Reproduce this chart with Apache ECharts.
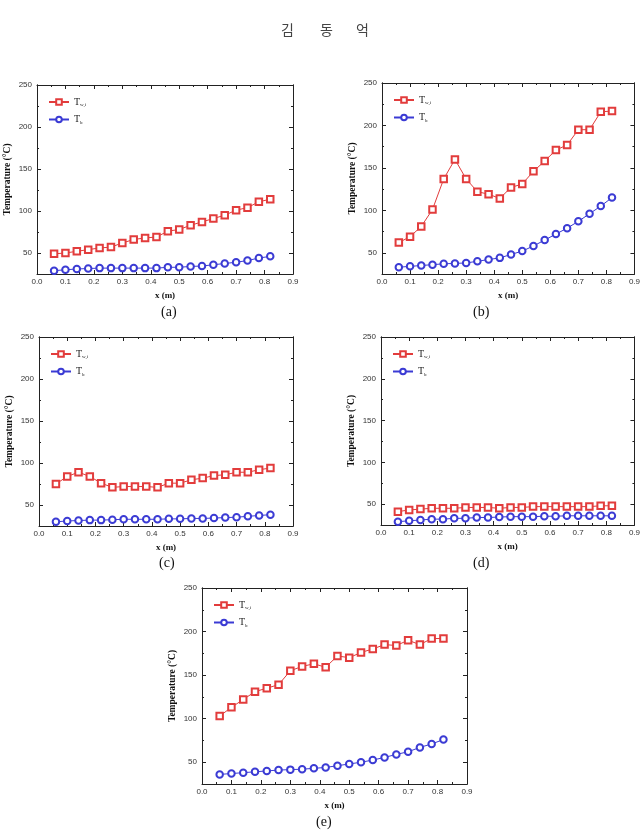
<!DOCTYPE html>
<html>
<head>
<meta charset="utf-8">
<script src="https://cdn.jsdelivr.net/npm/echarts@6/dist/echarts.min.js"></script>
<style>
html,body{margin:0;padding:0;background:#fff;}
#c{width:643px;height:831px;}
</style>
</head>
<body>
<div id="c"></div>
<script>
// ---- data ----
const xValues = [0.06,0.10,0.14,0.18,0.22,0.26,0.30,0.34,0.38,0.42,0.46,0.50,0.54,0.58,0.62,0.66,0.70,0.74,0.78,0.82];
const twA = [49,50,52,54,56,57,62,66,68,69,76,78,83,87,91,95,101,104,111,114];
const tbA = [29,30,31,31.5,32,32,32,32,32,32,33,33,34,34.5,36,37.5,39,41,44,46];
const twB = [62,69,81,101,137,160,137,122,119,114,127,131,146,158,171,177,195,195,216,217];
const tbB = [33,34,35,36,37,37.5,38,40,42,44,48,52,58,65,72,79,87,96,105,115];
const twC = [75,84,89,84,76,71,72,72,72,71,76,76,80,82,85,86,89,89,92,94];
const tbC = [30,31,31.5,32,32,32.5,33,33,33,33,33.5,33.5,34,34,34.5,35,35.5,36.5,37.5,38.5];
const twD = [41,43,44,45,45,45,46,46,46,45,46,46,47,47,47,47,47,47,48,48];
const tbD = [29,30,31,32,32,33,33,34,34,34.5,35,35,35,35.5,35.5,36,36,36,36,36];
const twE = [103,113,122,131,135,139,155,160,163,159,172,170,176,180,185,184,190,185,192,192];
const tbE = [36,37,38,39,40,41,41.5,42,43,44,46,48,50,52.5,55.5,59,62,67,71,76];
const yTickValues = [50,100,150,200,250];
const yMinorValues = [50,75,100,125,150,175,200,225,250];
const captions = ['(a)','(b)','(c)','(d)','(e)'];
const seriesNames = ['Tw,i','Tb'];
const titleChars = ['김','동','억'];

// ---- layout ----
const panels = [
  {tw: twA, tb: tbA, grid:{left:37, top:85, width:256, height:189}, cap:[170,313]},
  {tw: twB, tb: tbB, grid:{left:382, top:83, width:254, height:191}, cap:[482,313]},
  {tw: twC, tb: tbC, grid:{left:39, top:337, width:254, height:189}, cap:[168,564]},
  {tw: twD, tb: tbD, grid:{left:381, top:337, width:255, height:188}, cap:[482,564]},
  {tw: twE, tb: tbE, grid:{left:202, top:588, width:265, height:196}, cap:[325,823]}
];

const RED = '#e23c3c', BLUE = '#3b3bd4', AX = '#222';
const serif = '"Liberation Serif","Times New Roman",serif';
const sans = '"Liberation Sans",Arial,sans-serif';

const grids = [], xAxes = [], yAxes = [], series = [], legends = [], graphics = [];

panels.forEach((p, i) => {
  grids.push(Object.assign({containLabel:false}, p.grid));
  const xBase = {gridIndex:i, type:'value', min:0, max:0.9, interval:0.1,
    axisLine:{show:true, onZero:false, lineStyle:{color:AX, width:1}},
    axisTick:{show:true, inside:true, length:4, lineStyle:{color:AX}},
    minorTick:{show:true, splitNumber:2, length:2, lineStyle:{color:AX}},
    splitLine:{show:false}};
  xAxes.push(Object.assign({}, xBase, {position:'bottom',
    name:'x (m)', nameLocation:'middle', nameGap:17,
    nameTextStyle:{fontFamily:serif, fontWeight:'bold', fontSize:9, color:'#111'},
    axisLabel:{show:true, margin:4, fontSize:8, fontFamily:sans, color:'#333',
      formatter: v => v.toFixed(1)}}));
  xAxes.push(Object.assign({}, xBase, {position:'top', axisLabel:{show:false}}));

  const yBase = {gridIndex:i, type:'value', min:25, max:250,
    axisLine:{show:true, onZero:false, lineStyle:{color:AX, width:1}},
    splitLine:{show:false}};
  yAxes.push(Object.assign({}, yBase, {position:'left',
    name:'Temperature (°C)', nameLocation:'middle', nameGap:24,
    nameTextStyle:{fontFamily:serif, fontWeight:'bold', fontSize:9.5, color:'#111'},
    axisTick:{show:true, inside:true, length:4, customValues:yTickValues, lineStyle:{color:AX}},
    axisLabel:{show:true, margin:5, fontSize:8, fontFamily:sans, color:'#333', customValues:yTickValues}}));
  const yMain = yAxes.length - 1;
  yAxes.push(Object.assign({}, yBase, {position:'left',
    axisTick:{show:true, inside:true, length:2, customValues:yMinorValues, lineStyle:{color:AX}},
    axisLabel:{show:false}}));
  yAxes.push(Object.assign({}, yBase, {position:'right',
    axisTick:{show:true, inside:true, length:4, customValues:yTickValues, lineStyle:{color:AX}},
    axisLabel:{show:false}}));
  yAxes.push(Object.assign({}, yBase, {position:'right',
    axisTick:{show:true, inside:true, length:2, customValues:yMinorValues, lineStyle:{color:AX}},
    axisLabel:{show:false}}));

  const xIdx = i * 2;
  series.push({name:'Tw,i', type:'line', xAxisIndex:xIdx, yAxisIndex:yMain,
    data: xValues.map((x, k) => [x, p.tw[k]]),
    symbol:'emptyRect', symbolSize:6.5, showAllSymbol:true,
    lineStyle:{color:RED, width:1}, itemStyle:{color:RED, borderWidth:0.9}, animation:false, clip:true});
  series.push({name:'Tb', type:'line', xAxisIndex:xIdx, yAxisIndex:yMain,
    data: xValues.map((x, k) => [x, p.tb[k]]),
    symbol:'emptyCircle', symbolSize:6.5, showAllSymbol:true,
    lineStyle:{color:BLUE, width:1}, itemStyle:{color:BLUE, borderWidth:0.9}, animation:false, clip:true});

  legends.push({data:seriesNames, orient:'vertical',
    left: p.grid.left + 6, top: p.grid.top + 7,
    itemWidth:20, itemHeight:7, itemGap:7,
    formatter: n => n === 'Tb' ? '{m|T}{s|b}' : '{m|T}{s|w,i}',
    textStyle:{color:'#111', rich:{
      m:{fontFamily:serif, fontSize:10, color:'#222'},
      s:{fontFamily:serif, fontSize:5, color:'#222', padding:[6,0,0,0]}}}});

  graphics.push({type:'text', left:p.cap[0]-9, top:p.cap[1]-8,
    style:{text:captions[i], fontFamily:serif, fontSize:14, fill:'#111'}});
});

titleChars.forEach((ch, j) => {
  graphics.push({type:'text', left:[281,320,356][j], top:23,
    style:{text:ch, fontFamily:'"Noto Sans CJK KR","Noto Sans CJK SC",sans-serif', fontSize:14, fill:'#444'}});
});

const chart = echarts.init(document.getElementById('c'), null, {renderer:'canvas'});
chart.setOption({
  animation:false,
  backgroundColor:'#fff',
  grid: grids, xAxis: xAxes, yAxis: yAxes, series: series,
  legend: legends, graphic: graphics
});
</script>
</body>
</html>
